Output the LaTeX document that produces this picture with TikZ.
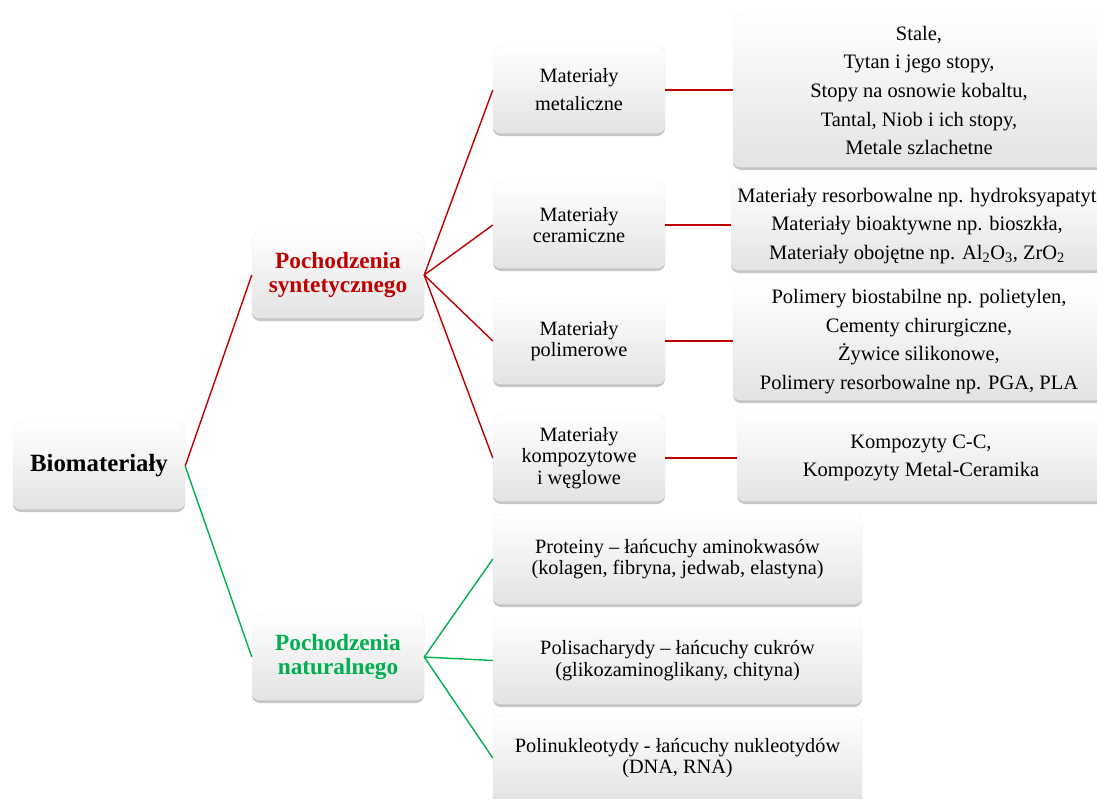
\documentclass[tikz,border=0pt]{standalone}
\usepackage{fontspec}
\setmainfont{Liberation Serif}
\usetikzlibrary{shadows}
\definecolor{cred}{HTML}{C00000}
\definecolor{cgreen}{HTML}{00B050}
\tikzset{
  box/.style={draw=gray!12, rounded corners=8pt, top color=white, bottom color=gray!22,
    drop shadow={shadow xshift=0pt, shadow yshift=-3pt, opacity=0.45},
    align=center, inner sep=1pt},
  small/.style={box, minimum width=172pt, minimum height=86pt},
  wide/.style={box, minimum width=372pt},
  f17/.style={font=\fontsize{20.3}{21.5}\selectfont},
  f18/.style={font=\fontsize{20.5}{28.7}\selectfont},
  title/.style={font=\fontsize{23.3}{23.5}\selectfont\bfseries},
  rline/.style={draw=cred, line width=1.4pt},
  gline/.style={draw=cgreen, line width=1.4pt}
}
\begin{document}
\begin{tikzpicture}[x=1pt,y=-1pt]
\useasboundingbox (0,0) rectangle (1097,798);
% level 0 and 1
\node[small, font=\fontsize{24.8}{28}\selectfont\bfseries] (bio) at (99,466) {Biomateriały};
\node[small, title, text=cred] (syn) at (338,275) {Pochodzenia\\syntetycznego};
\node[small, title, text=cgreen] (nat) at (338,657) {Pochodzenia\\naturalnego};
% level 2 synthetic
\node[small, font=\fontsize{20.3}{28}\selectfont] (met) at (579,90) {Materiały\\metaliczne};
\node[small, f17] (cer) at (579,225) {Materiały\\ceramiczne};
\node[small, f17] (pol) at (579,341) {Materiały\\polimerowe};
\node[small, f17] (kom) at (579,458) {Materiały\\kompozytowe\\i węglowe};
% level 3 synthetic
\node[wide, f18, minimum height=153pt] (metd) at (919,90.5) {Stale,\\Tytan i jego stopy,\\Stopy na osnowie kobaltu,\\Tantal, Niob i ich stopy,\\Metale szlachetne};
\node[wide, f18, minimum height=88pt] (cerd) at (917,226) {Materiały resorbowalne np. hydroksyapatyt\\Materiały bioaktywne np. bioszkła,\\Materiały obojętne np. Al\textsubscript{2}O\textsubscript{3}, ZrO\textsubscript{2}};
\node[wide, f18, minimum height=117pt] (pold) at (919,341.5) {Polimery biostabilne np. polietylen,\\Cementy chirurgiczne,\\Żywice silikonowe,\\Polimery resorbowalne np. PGA, PLA};
\node[box, f18, minimum width=368pt, minimum height=86pt] (komd) at (921,458) {Kompozyty C-C,\\Kompozyty Metal-Ceramika};
% level 2 natural
\node[box, f17, minimum width=369pt, minimum height=90pt] (prot) at (677.5,559) {Proteiny – łańcuchy aminokwasów\\(kolagen, fibryna, jedwab, elastyna)};
\node[box, f17, minimum width=369pt, minimum height=87pt] (poli) at (677.5,660.5) {Polisacharydy – łańcuchy cukrów\\(glikozaminoglikany, chityna)};
\node[box, f17, minimum width=369pt, minimum height=86pt] (nukl) at (677.5,758) {Polinukleotydy - łańcuchy nukleotydów\\(DNA, RNA)};
% connectors
\draw[rline] (bio.east) -- (syn.west);
\draw[gline] (bio.east) -- (nat.west);
\draw[rline] (syn.east) -- (met.west);
\draw[rline] (syn.east) -- (cer.west);
\draw[rline] (syn.east) -- (pol.west);
\draw[rline] (syn.east) -- (kom.west);
\draw[rline] (met.east) -- (met.east -| metd.west);
\draw[rline] (cer.east) -- (cer.east -| cerd.west);
\draw[rline] (pol.east) -- (pol.east -| pold.west);
\draw[rline] (kom.east) -- (kom.east -| komd.west);
\draw[gline] (nat.east) -- (prot.west);
\draw[gline] (nat.east) -- (poli.west);
\draw[gline] (nat.east) -- (nukl.west);
\end{tikzpicture}
\end{document}
